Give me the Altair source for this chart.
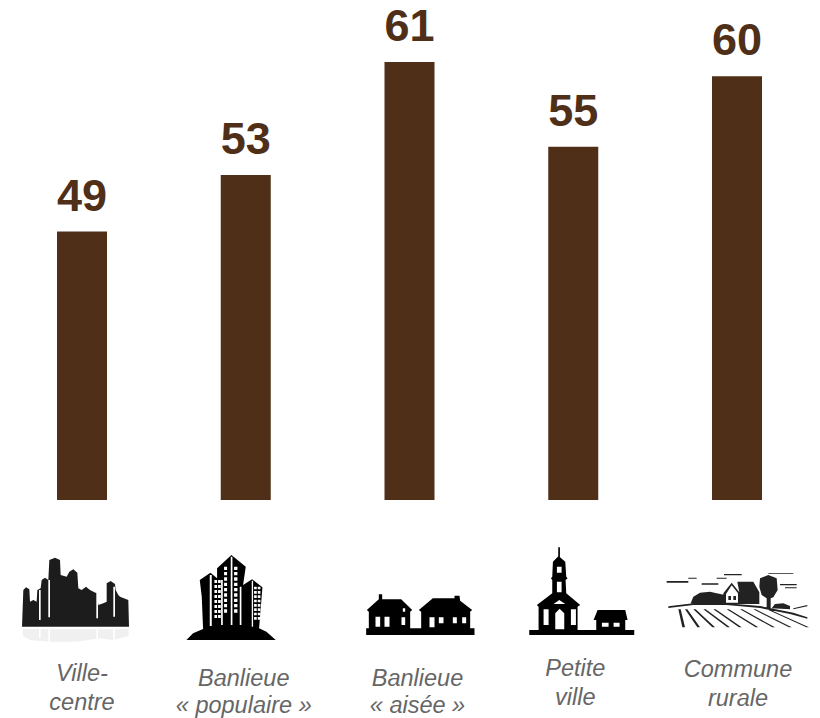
import altair as alt
import pandas as pd

categories = ["Ville-centre", "Banlieue « populaire »", "Banlieue « aisée »", "Petite ville", "Commune rurale"]
values = [49, 53, 61, 55, 60]
label_line1 = ["Ville-", "Banlieue", "Banlieue", "Petite", "Commune"]
label_line2 = ["centre", "« populaire »", "« aisée »", "ville", "rurale"]

BROWN = "#4f2f18"
GREY = "#666666"
centers = [82, 246, 410, 573, 737]
ANCHOR_Y = 600

x_scale = alt.Scale(type="point", domain=categories, range=[74, 729], padding=0)
y_scale = alt.Scale(domain=[30, 61], range=[492, 54], clamp=True)

df = pd.DataFrame({"cat": categories, "val": values})
bars = alt.Chart(df).mark_bar(width=50, color=BROWN).encode(
    x=alt.X("cat:N", scale=x_scale, axis=None, sort=None),
    y=alt.Y("val:Q", scale=y_scale, axis=None, stack=None),
    y2=alt.datum(30),
)
val_text = alt.Chart(df).mark_text(
    font="Liberation Sans", fontWeight="bold", fontSize=45, color=BROWN,
    baseline="alphabetic", align="center", dy=-21,
).encode(
    x=alt.X("cat:N", scale=x_scale, axis=None, sort=None),
    y=alt.Y("val:Q", scale=y_scale, axis=None),
    text="val:Q",
)


def R(a, b, c, d):
    return [(a, b), (c, b), (c, d), (a, d)]


def make_path(polys, ox, oy, cx):
    out = []
    for p in polys:
        pts = [(ox + x / 3 - cx, oy + y / 3 - ANCHOR_Y) for x, y in p]
        out.append("M" + "L".join(f"{x:.2f},{y:.2f}" for x, y in pts) + "Z")
    return "".join(out)


# ---- pictograms, one list of outlines per colour, in crop units ----
city_black = [[(66, 290), (70, 180), (78, 172), (88, 178), (90, 215), (100, 210), (110, 215), (112, 180), (122, 175),
               (125, 150), (135, 143), (145, 150), (148, 90), (165, 83), (180, 90), (182, 135), (200, 140), (208, 125),
               (220, 118), (232, 128), (235, 175), (245, 180), (258, 170), (270, 180), (280, 185), (290, 190), (295, 225),
               (310, 220), (320, 215), (320, 160), (332, 153), (345, 162), (347, 180), (355, 195), (360, 200), (385, 210),
               (387, 290)]]
city_white = [R(145, 150, 150, 262), R(117, 180, 122, 270), R(289, 190, 294, 265), R(340, 170, 345, 260),
              R(145, 296, 150, 336), R(117, 296, 122, 325), R(289, 296, 294, 330), R(340, 296, 345, 332)]
city_light = [[(68, 296), (386, 296), (386, 318), (340, 330), (300, 325), (230, 335), (150, 335), (90, 330), (68, 318)]]

bld_black = [[(560, 330), (580, 310), (610, 297), (606, 200), (600, 150), (632, 128), (652, 145), (652, 115), (695, 75),
              (738, 110), (730, 165), (757, 148), (788, 172), (778, 295), (800, 305), (828, 330)]]
bld_white = [R(630, 135, 636, 288), R(664, 150, 669, 285), R(693, 80, 698, 285), R(720, 170, 725, 285), R(756, 152, 760, 290)]
for r in range(8):
    yy = 150 + r * 15
    bld_white += [R(644, yy, 652, yy + 9), R(655, yy, 663, yy + 9)]
for r in range(9):
    yy = 110 + r * 16
    bld_white += [R(673, yy, 682, yy + 10), R(703, yy, 713, yy + 10)]
for r in range(8):
    yy = 170 + r * 13
    bld_white += [R(763, yy, 771, yy + 8), R(774, yy, 782, yy + 8)]

house_black = [R(80, 295, 405, 315),
               [(88, 296), (88, 245), (82, 240), (118, 208), (118, 193), (128, 193), (128, 208), (185, 208), (218, 240),
                (212, 245), (212, 296)],
               [(245, 296), (245, 245), (238, 240), (280, 205), (345, 205), (345, 197), (360, 197), (362, 212), (398, 240),
                (392, 245), (392, 296)]]
house_white = [R(108, 260, 122, 290), R(135, 260, 150, 290), R(186, 262, 197, 285), R(190, 235, 197, 245),
               R(270, 262, 285, 292), R(298, 262, 312, 280), R(340, 262, 352, 280), R(368, 262, 380, 280)]

church_black = [R(567, 300, 882, 315), R(654, 52, 659, 82),
                [(638, 95), (655, 78), (675, 95), (678, 140), (682, 145), (676, 150), (678, 190), (720, 225), (712, 230),
                 (712, 301), (595, 301), (595, 230), (590, 225), (636, 190), (636, 150), (632, 145), (636, 140)],
                [(768, 301), (768, 270), (760, 270), (772, 240), (855, 240), (862, 270), (855, 270), (855, 301)]]
church_white = [R(650, 110, 664, 128), R(650, 155, 664, 187), R(610, 238, 625, 285), R(692, 238, 707, 285),
                [(645, 298), (645, 250), (658, 236), (672, 250), (672, 298)],
                [(640, 222), (657, 210), (675, 222)],
                R(785, 278, 805, 290), R(820, 278, 838, 290)]

farm_black = [R(50, 123, 115, 128), R(115, 113, 140, 116), R(155, 130, 205, 134), R(200, 113, 230, 116),
              R(222, 102, 275, 106), R(390, 132, 440, 136), R(405, 142, 440, 145), R(355, 99, 430, 101),
              [(262, 125), (310, 125), (328, 157), (328, 192), (268, 192), (268, 157)],
              [(220, 160), (245, 128), (268, 157), (268, 192), (224, 192)],
              [(122, 190), (130, 170), (150, 158), (180, 155), (200, 160), (225, 165), (238, 190)],
              [(330, 115), (355, 105), (380, 115), (383, 150), (370, 172), (362, 175), (362, 205), (350, 205), (350, 175),
               (335, 165), (328, 140)],
              [(365, 205), (375, 192), (400, 190), (420, 198), (420, 208)],
              [(55, 199), (130, 190), (230, 190), (330, 198), (430, 218), (472, 232), (472, 236), (420, 222), (330, 204),
               (230, 195), (130, 195), (55, 204)],
              [(430, 205), (472, 195), (472, 199), (430, 208)]]
for x0, x1 in [(85, 100), (105, 145), (130, 190), (160, 235), (190, 270), (230, 320), (270, 370), (310, 420), (350, 472)]:
    farm_black.append([(x0, 208), (x0 + 7, 208), (x1 + 5, 262), (x1 - 3, 262)])
farm_white = [[(228, 162), (245, 136), (264, 160), (264, 188), (228, 188)]]
farm_dark = [R(235, 168, 243, 180), R(250, 168, 258, 180)]

icons = [
    (0, 0, 530, [("#f0f0f0", city_light), ("#1c1c1c", city_black), ("#ffffff", city_white)]),
    (1, 0, 530, [("#000000", bld_black), ("#ffffff", bld_white)]),
    (2, 340, 530, [("#000000", house_black), ("#ffffff", house_white)]),
    (3, 340, 530, [("#000000", church_black), ("#ffffff", church_white)]),
    (4, 650, 540, [("#222222", farm_black), ("#ffffff", farm_white), ("#222222", farm_dark)]),
]

layers = [bars, val_text]
for idx, ox, oy, parts in icons:
    for col, polys in parts:
        layers.append(
            alt.Chart(pd.DataFrame({"cat": [categories[idx]]}))
            .mark_point(shape=make_path(polys, ox, oy, centers[idx]), size=4, filled=True, fill=col, opacity=1, strokeWidth=0)
            .encode(x=alt.X("cat:N", scale=x_scale, axis=None, sort=None), y=alt.value(ANCHOR_Y - 8))
        )

# caption placement: (horizontal shift from the bar, first line, second line)
placement = [(0, 674, 703), (-2, 679, 706), (8, 679, 706), (2, 669, 698), (1, 670, 699)]
for cat, l1, l2, (dx, y1, y2) in zip(categories, label_line1, label_line2, placement):
    for line, py in ((l1, y1), (l2, y2)):
        layers.append(
            alt.Chart(pd.DataFrame({"cat": [cat], "t": [line]}))
            .mark_text(font="Liberation Sans", fontStyle="italic", fontSize=23.5, color=GREY,
                       align="center", baseline="middle", dx=dx)
            .encode(x=alt.X("cat:N", scale=x_scale, axis=None, sort=None), y=alt.value(py - 8), text="t:N")
        )

chart = (
    alt.layer(*layers)
    .properties(width=804, height=710, padding=0, autosize=alt.AutoSizeParams(type="none"))
    .configure_view(stroke=None)
)
chart.save("out.html", embed_options={"renderer": "svg", "actions": False})
